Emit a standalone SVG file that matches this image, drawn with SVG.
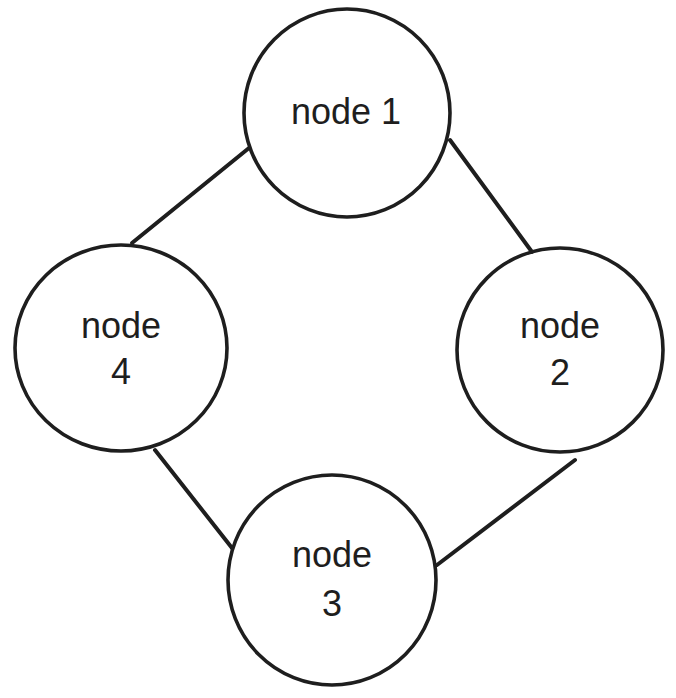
<svg xmlns="http://www.w3.org/2000/svg" width="676" height="698" viewBox="0 0 676 698">
<style>
.n{fill:none;stroke:#1e1e1e;stroke-width:3.6}
.e{fill:none;stroke:#1e1e1e;stroke-width:4;stroke-linecap:round}
.t{font-family:"Liberation Sans",Arial,sans-serif;font-size:36px;fill:#1e1e1e;text-anchor:middle}
</style>
<rect width="676" height="698" fill="#ffffff"/>
<g id="connectors">
<line class="e" x1="249" y1="148" x2="132" y2="243"/>
<line class="e" x1="450" y1="140" x2="532" y2="252"/>
<line class="e" x1="575" y1="460" x2="437" y2="565"/>
<line class="e" x1="155" y1="450" x2="232" y2="548"/>
</g>
<g id="node1">
<ellipse class="n" cx="347" cy="113" rx="103" ry="104"/>
<text class="t" x="346" y="124">node 1</text>
</g>
<g id="node2">
<ellipse class="n" cx="560" cy="350" rx="103" ry="102"/>
<text class="t" x="560" y="338">node</text>
<text class="t" x="560" y="385">2</text>
</g>
<g id="node3">
<ellipse class="n" cx="332" cy="580" rx="104" ry="105"/>
<text class="t" x="332" y="567">node</text>
<text class="t" x="332" y="616">3</text>
</g>
<g id="node4">
<ellipse class="n" cx="121" cy="348" rx="106" ry="103"/>
<text class="t" x="121" y="338">node</text>
<text class="t" x="121" y="384">4</text>
</g>
</svg>
